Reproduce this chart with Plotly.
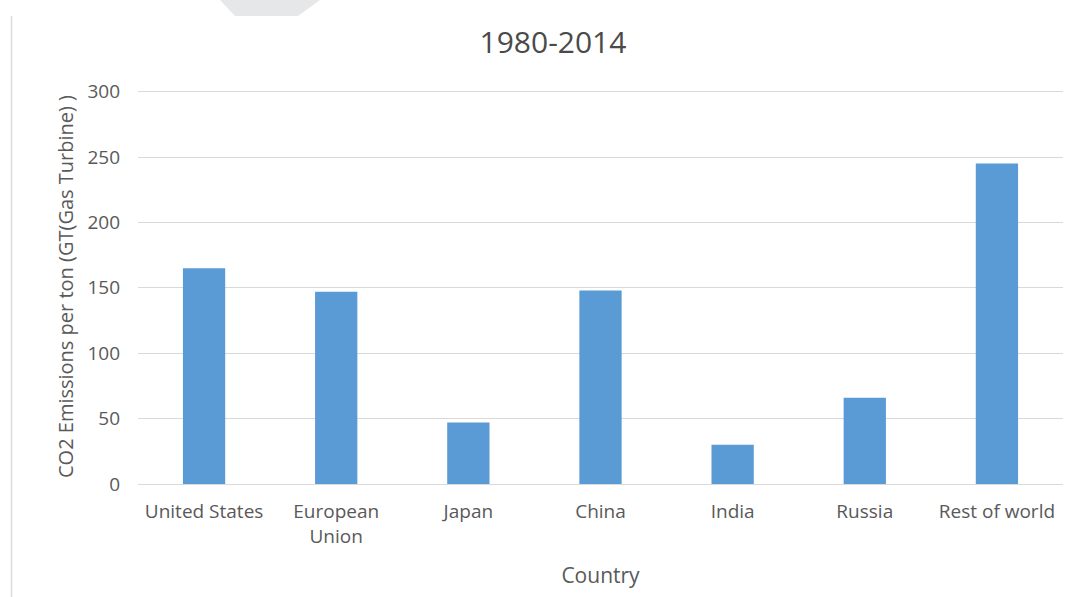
import plotly.graph_objects as go

# CO2 emissions by region, 1980-2014
countries = ["United States", "European<br>Union", "Japan", "China", "India", "Russia", "Rest of world"]
emissions = [165, 147, 47, 148, 30, 66, 245]
y_ticks = [0, 50, 100, 150, 200, 250, 300]

W, H = 1083, 597
L, R, T, B = 138, 20, 89, 113
pw, ph = W - L - R, H - T - B


def px(x):
    return (x - L) / pw


def py(y):
    return 1 - (y - T) / ph


font_family = "Open Sans, Lato, sans-serif"
text_color = "#595959"

fig = go.Figure(
    go.Bar(
        x=countries,
        y=emissions,
        marker=dict(color="#5b9bd5", line=dict(width=0)),
        width=0.32,
    )
)

fig.update_layout(
    width=W,
    height=H,
    margin=dict(l=L, r=R, t=T, b=B),
    paper_bgcolor="white",
    plot_bgcolor="white",
    showlegend=False,
    font=dict(family=font_family, color=text_color, size=16),
    title=dict(
        text="1980-2014",
        xref="container",
        x=553 / W,
        xanchor="center",
        yref="container",
        y=1 - 42 / H,
        yanchor="middle",
        font=dict(size=30, color="#4a4a4a"),
    ),
    xaxis=dict(
        title=dict(text="Country", font=dict(size=21), standoff=20),
        showgrid=False,
        showline=True,
        linecolor="#d9d9d9",
        linewidth=1,
        ticks="",
        ticklabelstandoff=10,
        tickfont=dict(size=19),
    ),
    yaxis=dict(
        title=dict(text="CO2 Emissions per ton (GT(Gas Turbine) )", font=dict(size=20), standoff=8),
        range=[0, 302],
        tickvals=y_ticks,
        showgrid=True,
        gridcolor="#d9d9d9",
        gridwidth=1,
        zeroline=False,
        showline=False,
        ticks="",
        ticklabelstandoff=17,
        tickfont=dict(size=19),
    ),
    shapes=[
        # thin page border on the left
        dict(type="line", xref="paper", yref="paper",
             x0=px(11.5), x1=px(11.5), y0=py(16), y1=py(597),
             line=dict(color="#dcdcdc", width=1.5)),
        # grey tab at the top edge
        dict(type="path", xref="paper", yref="paper",
             path=f"M {px(220)} {py(0)} L {px(320)} {py(0)} L {px(298)} {py(16)} L {px(235)} {py(16)} Z",
             fillcolor="#e6e7e9", line=dict(width=0)),
    ],
)

fig.write_html("out.html")
